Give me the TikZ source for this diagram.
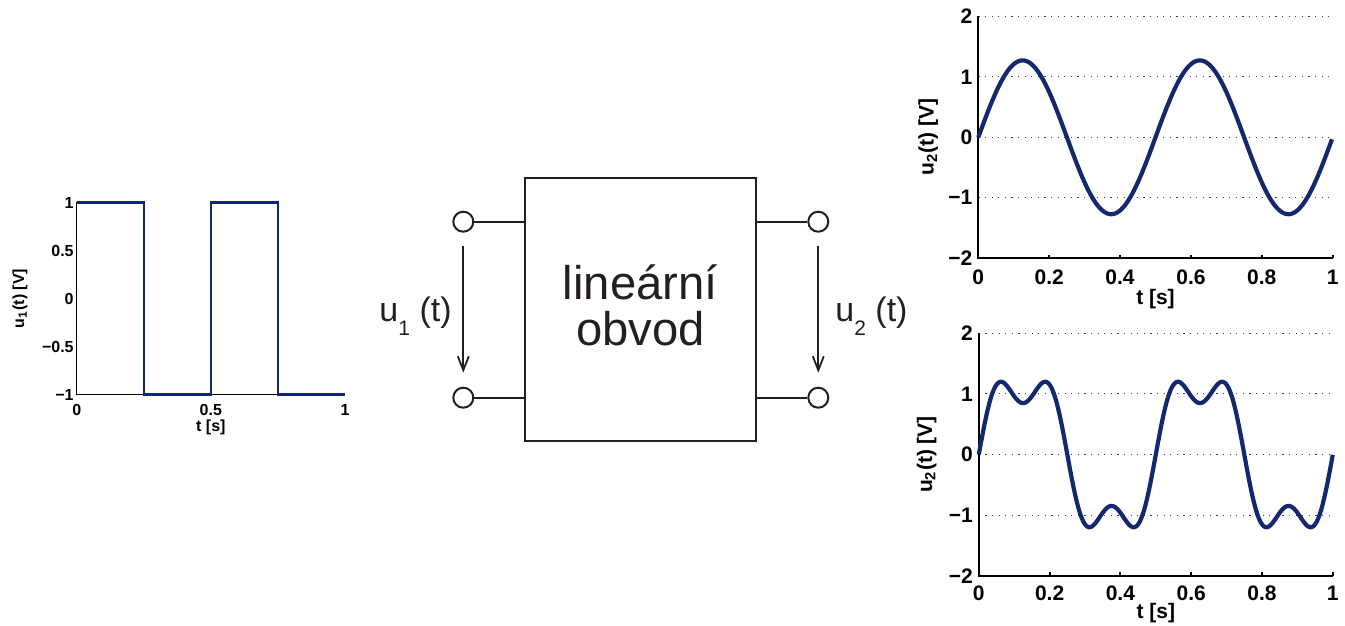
\documentclass[tikz,border=0pt]{standalone}
\usepackage{fontspec}
\setmainfont{Liberation Sans}
\usepackage{xcolor}
\usepackage{tikz}
\usetikzlibrary{arrows.meta, positioning, calc}

\definecolor{plotblue}{RGB}{20,40,110}
\definecolor{inkgray}{RGB}{35,31,32}
\newcommand{\usubsize}{\fontsize{10.5pt}{12pt}\selectfont}

\begin{document}
\begin{tikzpicture}[
    x=0.5pt, y=-0.5pt,
    wire/.style={draw=inkgray, line width=1pt},
    terminal/.style={circle, draw=inkgray, line width=1pt, fill=white, minimum size=10pt, inner sep=0pt},
    circuitbox/.style={rectangle, draw=inkgray, line width=1pt, minimum width=115.3pt, minimum height=131.2pt},
    volt/.style={draw=inkgray, line width=0.9pt, -{Straight Barb[length=7pt, width=5.5pt]}, shorten <=6.4pt, shorten >=7pt},
    ulabel/.style={text=inkgray, font=\fontsize{17pt}{20pt}\selectfont, inner sep=0pt},
    boxtext/.style={text=inkgray, font=\fontsize{23.6pt}{23.3pt}\selectfont, align=center, inner sep=0pt},
    axisline/.style={black, line width=1pt},
    gridline/.style={black!75, line width=0.5pt, dash pattern=on 0.6pt off 2.7pt},
    sigline/.style={plotblue, line width=2.1pt, line join=round},
    tickbig/.style={font=\fontsize{10.5pt}{12pt}\selectfont\bfseries, inner sep=0pt},
    ticksmall/.style={font=\fontsize{8pt}{9pt}\selectfont\bfseries, inner sep=0pt}
]
\useasboundingbox (0,0) rectangle (1345,626);

% Input signal (left)
\begin{scope}[xshift=38.35pt, yshift=-149.25pt, x=134.15pt, y=48pt]
    \draw[black, line width=0.75pt] (0,-1) -- (0,1);
    \draw[black, line width=0.75pt] (0,-1) -- (1,-1);
    \draw[plotblue, line width=1.25pt] (0,1) -- (0.25,1) -- (0.25,-1) -- (0.5,-1) -- (0.5,1) -- (0.75,1) -- (0.75,-1) -- (1,-1);
    \foreach \v/\s in {1/1, 0.5/0.5, 0/0, -0.5/−0.5, -1/−1}
        \node[ticksmall, anchor=east, xshift=-1.35pt] at (0,\v) {\s};
    \foreach \t/\s in {0/0, 0.5/0.5, 1/1}
        \node[ticksmall, yshift=-7.85pt] at (\t,-1) {\s};
    \node[ticksmall] (t_in) at ([yshift=-16.2pt]0.5,-1) {t [s]};
    \node[ticksmall, rotate=90] (u_in) at ([xshift=-28.35pt]0,0) {u\textsubscript{1}(t) [V]};
\end{scope}

% Two-port
\node[circuitbox] (box) at (640.3,309.5) {};
\node[boxtext] (box_text) at ([yshift=2pt]box.center) {lineární\\obvod};

\node[terminal] (in_top) at (463.3,221.7) {};
\node[terminal] (in_bot) at (463.3,397.7) {};
\node[terminal] (out_top) at (818.3,221.7) {};
\node[terminal] (out_bot) at (818.3,397.7) {};

\draw[wire] (in_top) -- (in_top -| box.west);
\draw[wire] (in_bot) -- (in_bot -| box.west);
\draw[wire] (out_top) -- (out_top -| box.east);
\draw[wire] (out_bot) -- (out_bot -| box.east);

% Voltage arrows
\draw[volt] (in_top) -- (in_bot);
\draw[volt] (out_top) -- (out_bot);
\node[ulabel, anchor=base east] (u1) at (452,321.7) {u\raisebox{-6.7pt}{\usubsize 1} (t)};
\node[ulabel, anchor=base west] (u2) at (835,321.7) {u\raisebox{-6.7pt}{\usubsize 2} (t)};

% Output, sine (top right)
\begin{scope}[xshift=489.15pt, yshift=-68.65pt, x=177.2pt, y=30.2pt]
    \foreach \v in {2,1,0,-1}
        \draw[gridline] (0,\v) -- (1,\v);
    \draw[axisline] (0,2) -- (0,-2) -- (1,-2);
    \foreach \t in {0.2,0.4,0.6,0.8,1}
        \draw[axisline] (\t,-2) -- ++(0pt,1.7pt);
    \draw[sigline] plot[domain=0:1, samples=301] (\x, {4/pi*sin(720*\x)});
    \foreach \v/\s in {2/2, 1/1, 0/0, -1/−1, -2/−2}
        \node[tickbig, anchor=east, xshift=-2.8pt] at (0,\v) {\s};
    \foreach \t/\s in {0/0, 0.2/0.2, 0.4/0.4, 0.6/0.6, 0.8/0.8, 1/1}
        \node[tickbig, yshift=-9.5pt] at (\t,-2) {\s};
    \node[tickbig] (t_sin) at ([yshift=-20.3pt]0.5,-2) {t [s]};
    \node[tickbig, rotate=90] (u_sin) at ([xshift=-25pt]0,0) {u\textsubscript{2}(t) [V]};
\end{scope}

% Output, distorted (bottom right)
\begin{scope}[xshift=489.4pt, yshift=-227.25pt, x=177pt, y=30.3pt]
    \foreach \v in {2,1,0,-1}
        \draw[gridline] (0,\v) -- (1,\v);
    \draw[axisline] (0,2) -- (0,-2) -- (1,-2);
    \foreach \t in {0.2,0.4,0.6,0.8,1}
        \draw[axisline] (\t,-2) -- ++(0pt,1.7pt);
    \draw[sigline] plot[domain=0:1, samples=401] (\x, {4/pi*(sin(720*\x)+sin(2160*\x)/3)});
    \foreach \v/\s in {2/2, 1/1, 0/0, -1/−1, -2/−2}
        \node[tickbig, anchor=east, xshift=-2.8pt] at (0,\v) {\s};
    \foreach \t/\s in {0/0, 0.2/0.2, 0.4/0.4, 0.6/0.6, 0.8/0.8, 1/1}
        \node[tickbig, yshift=-8.8pt] at (\t,-2) {\s};
    \node[tickbig] (t_sq) at ([yshift=-18.65pt]0.5,-2) {t [s]};
    \node[tickbig, rotate=90] (u_sq) at ([xshift=-26.1pt]0,0) {u\textsubscript{2}(t) [V]};
\end{scope}

\end{tikzpicture}
\end{document}
